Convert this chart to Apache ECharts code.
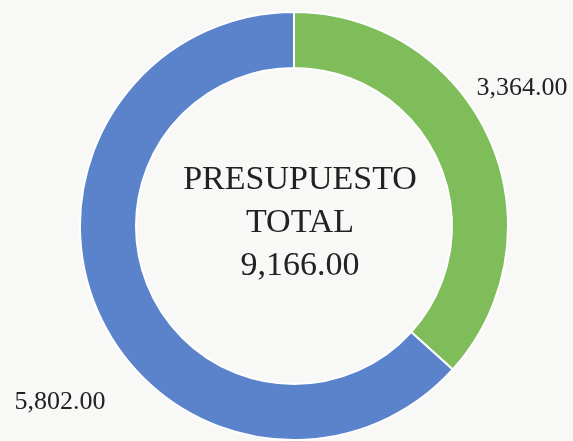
<!DOCTYPE html>
<html>
<head>
<meta charset="utf-8">
<script src="https://cdn.jsdelivr.net/npm/echarts@6/dist/echarts.min.js"></script>
<style>
    html, body { margin: 0; padding: 0; background: #f8f8f7; }
    #chart { width: 573px; height: 441px; }
</style>
</head>
<body>
<div id="chart"></div>
<script>
// Presupuesto donut chart

const categories = ['Parte A', 'Parte B'];
const values = [3364, 5802];
const sliceColors = ['#7fbc5a', '#5a83cb'];
const centerLines = ['PRESUPUESTO', 'TOTAL', '9,166.00'];

(function() {
    'use strict';

    const fontFamily = '"Liberation Serif", "DejaVu Serif", serif';

    // label spots for each slice (x, y in px)
    const labelSpots = [
        { x: 522, y: 88 },
        { x: 60, y: 402 }
    ];

    function fmt(v) {
        return v.toLocaleString('en-US', { minimumFractionDigits: 2, maximumFractionDigits: 2 });
    }

    const chart = echarts.init(document.getElementById('chart'));

    chart.setOption({
        backgroundColor: '#f8f8f7',
        animation: false,
        graphic: [{
            type: 'text',
            x: 300,
            y: 223,
            style: {
                text: centerLines.join('\n'),
                align: 'center',
                verticalAlign: 'middle',
                font: '34px ' + fontFamily,
                lineHeight: 43,
                fill: '#222'
            }
        }],
        series: [{
            type: 'pie',
            center: [294, 226],
            radius: [158, 214],
            startAngle: 90,
            clockwise: true,
            data: categories.map((name, i) => ({
                name: name,
                value: values[i],
                itemStyle: { color: sliceColors[i] }
            })),
            itemStyle: { borderColor: '#ffffff', borderWidth: 2 },
            label: {
                show: true,
                position: 'outside',
                formatter: p => fmt(p.value),
                fontFamily: fontFamily,
                fontSize: 26,
                color: '#222',
                overflow: 'none'
            },
            labelLine: { show: false },
            labelLayout: function(params) {
                const spot = labelSpots[params.dataIndex];
                return { x: spot.x, y: spot.y, align: 'center', verticalAlign: 'middle', width: 140 };
            },
            emphasis: { disabled: true }
        }]
    });
})();
</script>
</body>
</html>
